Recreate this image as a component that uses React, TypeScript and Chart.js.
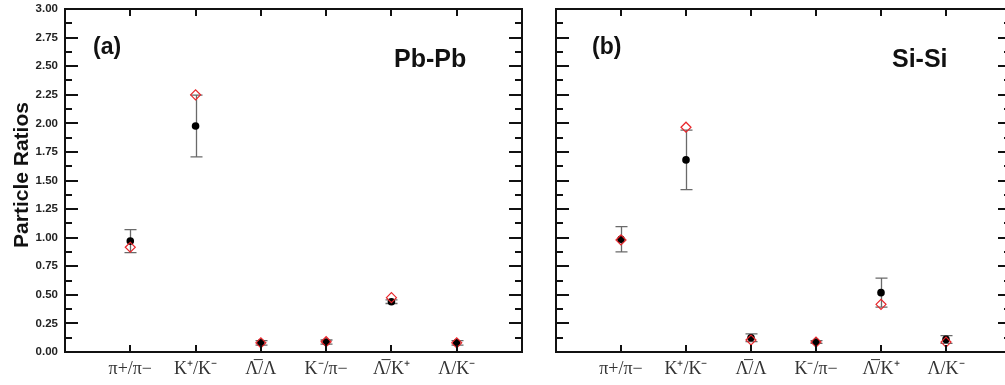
import React, { useEffect, useRef } from 'react';
import { Chart, registerables } from 'chart.js';

Chart.register(...registerables);

// ---- data ----
const categories = ['π+/π−', 'K⁺/K⁻', 'Λ̅/Λ', 'K⁻/π−', 'Λ̅/K⁺', 'Λ/K⁻'];

// Pb-Pb (panel a)
const pbData = [0.97, 1.977, 0.08, 0.087, 0.44, 0.08];
const pbError = [0.1, 0.27, 0.02, 0.018, 0.016, 0.02];
const pbModel = [0.916, 2.249, 0.08, 0.09, 0.475, 0.08];

// Si-Si (panel b)
const siData = [0.986, 1.68, 0.125, 0.087, 0.519, 0.11];
const siError = [0.11, 0.26, 0.034, 0.012, 0.127, 0.034];
const siModel = [0.98, 1.966, 0.105, 0.087, 0.417, 0.087];

const yMin = 0;
const yMax = 3;
const yStep = 0.25;
const yTitle = 'Particle Ratios';

const SANS = '"Liberation Sans", Arial, sans-serif';
const SERIF = '"Liberation Serif", "Times New Roman", serif';

const framePlugin = {
  id: 'frame',
  beforeDatasetsDraw(chart: any, _a: any, opts: any) {
    const { ctx, scales } = chart;
    const xs = scales.x;
    const ys = scales.y;
    const vals: number[] = opts.values || [];
    const errs: number[] = opts.errors || [];
    ctx.save();
    ctx.strokeStyle = '#6a6a6a';
    ctx.lineWidth = 1.3;
    vals.forEach((v, i) => {
      const px = Math.round(xs.getPixelForValue(i + 1)) + 0.5;
      const top = ys.getPixelForValue(v + errs[i]);
      const bot = ys.getPixelForValue(v - errs[i]);
      ctx.beginPath();
      ctx.moveTo(px, top);
      ctx.lineTo(px, bot);
      ctx.moveTo(px - 6, top);
      ctx.lineTo(px + 6, top);
      ctx.moveTo(px - 6, bot);
      ctx.lineTo(px + 6, bot);
      ctx.stroke();
    });
    ctx.restore();
  },
  afterDraw(chart: any, _a: any, opts: any) {
    const { ctx, chartArea: ca, scales } = chart;
    const xs = scales.x;
    const ys = scales.y;
    ctx.save();
    ctx.strokeStyle = '#111';
    ctx.lineWidth = 2;
    ctx.strokeRect(ca.left, ca.top, ca.right - ca.left, ca.bottom - ca.top);
    const line = (x1: number, y1: number, x2: number, y2: number) => {
      ctx.beginPath();
      ctx.moveTo(x1, y1);
      ctx.lineTo(x2, y2);
      ctx.stroke();
    };
    const majors: number[] = ys.ticks.map((t: any) => t.value);
    majors.forEach((v, k) => {
      const py = Math.round(ys.getPixelForValue(v));
      line(ca.left, py, ca.left + 13, py);
      line(ca.right, py, ca.right - 13, py);
      if (k < majors.length - 1) {
        const pm = Math.round(ys.getPixelForValue((v + majors[k + 1]) / 2));
        line(ca.left, pm, ca.left + 7, pm);
        line(ca.right, pm, ca.right - 7, pm);
      }
    });
    for (let i = 1; i <= categories.length; i++) {
      const px = Math.round(xs.getPixelForValue(i));
      line(px, ca.bottom, px, ca.bottom - 7);
      line(px, ca.top, px, ca.top + 7);
    }
    ctx.fillStyle = '#111';
    ctx.textBaseline = 'alphabetic';
    ctx.textAlign = 'left';
    ctx.font = `bold 23px ${SANS}`;
    ctx.fillText(opts.tag, opts.tagX, 54);
    ctx.font = `bold 25px ${SANS}`;
    ctx.fillText(opts.system, opts.systemX, 67);
    if (opts.showTitle) {
      ctx.save();
      ctx.translate(22, 175);
      ctx.rotate(-Math.PI / 2);
      ctx.textAlign = 'center';
      ctx.textBaseline = 'middle';
      ctx.font = `bold 21px ${SANS}`;
      ctx.fillText(yTitle, 0, 0);
      ctx.restore();
    }
    ctx.restore();
  },
};

type PanelProps = {
  data: number[];
  errors: number[];
  model: number[];
  tag: string;
  system: string;
  tagX: number;
  systemX: number;
  showY: boolean;
  width: number;
  yWidth: number;
  padRight: number;
  left: number;
};

function Panel(p: PanelProps) {
  const ref = useRef<HTMLCanvasElement>(null);
  useEffect(() => {
    if (!ref.current) return;
    const chart = new Chart(ref.current, {
      type: 'scatter',
      data: {
        datasets: [
          {
            label: 'model',
            data: p.model.map((v, i) => ({ x: i + 1, y: v })),
            pointStyle: 'rectRot',
            pointRadius: 5,
            borderColor: '#e8262b',
            backgroundColor: 'rgba(0,0,0,0)',
            borderWidth: 1.2,
            showLine: false,
            order: 0,
          },
          {
            label: 'data',
            data: p.data.map((v, i) => ({ x: i + 1, y: v })),
            pointStyle: 'circle',
            pointRadius: 3.8,
            borderColor: '#000',
            backgroundColor: '#000',
            borderWidth: 0,
            showLine: false,
            order: 1,
          },
        ],
      },
      options: {
        animation: false,
        responsive: false,
        maintainAspectRatio: false,
        layout: { padding: { top: 9, right: p.padRight, left: 0, bottom: 0 } },
        plugins: {
          legend: { display: false },
          tooltip: { enabled: false },
          frame: {
            values: p.data,
            errors: p.errors,
            tag: p.tag,
            system: p.system,
            tagX: p.tagX,
            systemX: p.systemX,
            showTitle: p.showY,
          },
        } as any,
        scales: {
          x: {
            type: 'linear',
            min: 0,
            max: categories.length + 1,
            grid: { display: false, drawTicks: false },
            border: { display: false },
            afterFit: (s: any) => {
              s.height = 33;
              s.paddingLeft = 0;
              s.paddingRight = 0;
            },
            afterBuildTicks: (s: any) => {
              const t = [];
              for (let i = 0; i <= categories.length + 1; i++) t.push({ value: i });
              s.ticks = t;
            },
            ticks: {
              autoSkip: false,
              maxRotation: 0,
              padding: 6,
              color: '#333',
              font: { family: SERIF, size: 18 },
              callback: (v: any) => categories[Number(v) - 1] ?? '',
            },
          },
          y: {
            type: 'linear',
            min: yMin,
            max: yMax,
            grid: { display: false, drawTicks: false },
            border: { display: false },
            afterFit: (s: any) => {
              s.width = p.yWidth;
              s.paddingTop = 0;
              s.paddingBottom = 0;
            },
            ticks: {
              display: p.showY,
              stepSize: yStep,
              padding: 7,
              color: '#222',
              font: { family: SANS, size: 11.5, weight: 'bold' },
              callback: (v: any) => Number(v).toFixed(2),
            },
          },
        },
      },
      plugins: [framePlugin],
    } as any);
    return () => chart.destroy();
  }, []);
  return (
    <canvas
      ref={ref}
      width={p.width}
      height={385}
      style={{ position: 'absolute', left: p.left, top: 0, width: p.width, height: 385 }}
    />
  );
}

export default function App() {
  return (
    <div
      style={{
        position: 'absolute',
        left: 0,
        top: 0,
        width: 1005,
        height: 385,
        overflow: 'hidden',
        background: '#fff',
      }}
    >
      <Panel
        data={pbData}
        errors={pbError}
        model={pbModel}
        tag="(a)"
        system="Pb-Pb"
        tagX={93}
        systemX={394}
        showY={true}
        width={540}
        yWidth={65}
        padRight={18}
        left={0}
      />
      <Panel
        data={siData}
        errors={siError}
        model={siModel}
        tag="(b)"
        system="Si-Si"
        tagX={52}
        systemX={352}
        showY={false}
        width={490}
        yWidth={16}
        padRight={19}
        left={540}
      />
    </div>
  );
}
